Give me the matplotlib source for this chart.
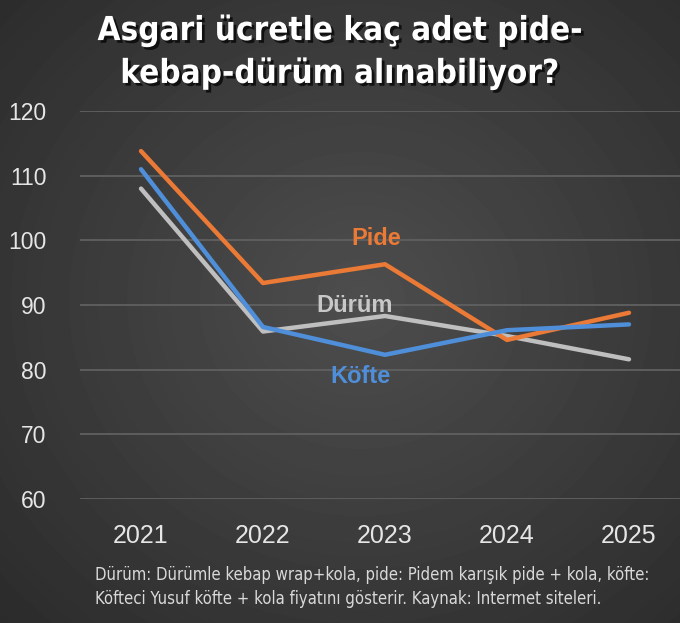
import numpy as np
import matplotlib
matplotlib.use("Agg")
import matplotlib.pyplot as plt
import matplotlib.patheffects as pe
from matplotlib import font_manager

years = ["2021", "2022", "2023", "2024", "2025"]
pide = [113.8, 93.4, 96.3, 84.6, 88.8]
durum = [108.0, 85.9, 88.3, 85.2, 81.6]
kofte = [111.0, 86.6, 82.3, 86.1, 87.0]
yticks = [60, 70, 80, 90, 100, 110, 120]

title = "Asgari ücretle kaç adet pide-\nkebap-dürüm alınabiliyor?"
footer = ("Dürüm: Dürümle kebap wrap+kola, pide: Pidem karışık pide + kola, köfte:\n"
          "Köfteci Yusuf köfte + kola fiyatını gösterir. Kaynak: Intermet siteleri.")


def find_narrow(bold):
    # look for any installed condensed / narrow face
    best = None
    for f in font_manager.fontManager.ttflist:
        tag = (f.name + " " + str(f.stretch) + " " + f.fname).lower()
        if not ("narrow" in tag or "condensed" in tag):
            continue
        if f.style != "normal":
            continue
        isbold = f.weight in ("bold", 700) or (isinstance(f.weight, int) and f.weight >= 600)
        if isbold == bold:
            best = f.fname
            break
    return best


names = {f.name for f in font_manager.fontManager.ttflist}
base = "Liberation Sans" if "Liberation Sans" in names else "DejaVu Sans"
nf = find_narrow(False)
nbf = find_narrow(True)
foot_fp = font_manager.FontProperties(fname=nf) if nf else font_manager.FontProperties(family="Roboto")
title_fp = font_manager.FontProperties(fname=nbf) if nbf else font_manager.FontProperties(family="DejaVu Sans", weight="bold")

fig = plt.figure(figsize=(6.8, 6.23), dpi=100)

# radial background, lighter in the middle
bg = fig.add_axes([0, 0, 1, 1], zorder=-10)
yy, xx = np.mgrid[0:623, 0:680]
r = np.sqrt(((xx - 360) / 520.0) ** 2 + ((yy - 300) / 480.0) ** 2)
shade = np.clip(0.305 - 0.14 * r, 0.15, 0.31)
bg.imshow(shade, cmap="gray", vmin=0, vmax=1, aspect="auto", extent=[0, 1, 0, 1])
bg.axis("off")

ax = fig.add_axes([80 / 680, 1 - 499 / 623, 610 / 680, 388 / 623])
ax.patch.set_alpha(0)
x = np.arange(len(years))
lw = 3.2
ax.plot(x, durum, color="#BFBFBF", lw=lw, solid_capstyle="round", zorder=3)
ax.plot(x, pide, color="#EA7A35", lw=lw, solid_capstyle="round", zorder=4)
ax.plot(x, kofte, color="#4F8FDA", lw=lw, solid_capstyle="round", zorder=5)

ax.set_xlim(-0.5, 4.5)
ax.set_ylim(60, 120)
ax.set_yticks(yticks)
ax.set_xticks(x)
ax.set_xticklabels(years)
ax.yaxis.grid(True, color="#606060", lw=1.3)
ax.set_axisbelow(True)
for s in ax.spines.values():
    s.set_visible(False)
ax.tick_params(axis="y", length=0, pad=24, labelsize=16.5, labelcolor="#E6E6E6")
ax.tick_params(axis="x", length=0, pad=18, labelsize=18, labelcolor="#E6E6E6")
for lab in ax.get_xticklabels() + ax.get_yticklabels():
    lab.set_family(base)

lblkw = dict(fontsize=17, fontweight="bold", ha="center", va="center", family=base)
ax.text(1.93, 100.3, "Pide", color="#EA7A35", **lblkw)
ax.text(1.75, 90.0, "Dürüm", color="#C8C8C8", **lblkw)
ax.text(1.80, 78.9, "Köfte", color="#4F8FDA", **lblkw)

fig.text(0.5, 1 - 52 / 623, title, ha="center", va="center", color="white",
         fontproperties=title_fp, fontsize=23.8,
         linespacing=1.38,
         path_effects=[pe.SimplePatchShadow(offset=(2, -2), shadow_rgbFace="black", alpha=0.7),
                       pe.Normal()])

fig.text(95 / 680, 1 - 587 / 623, footer, ha="left", va="center", color="#D9D9D9",
         fontproperties=foot_fp, fontsize=12.0, linespacing=1.5)

fig.savefig("out.png", dpi=100)
